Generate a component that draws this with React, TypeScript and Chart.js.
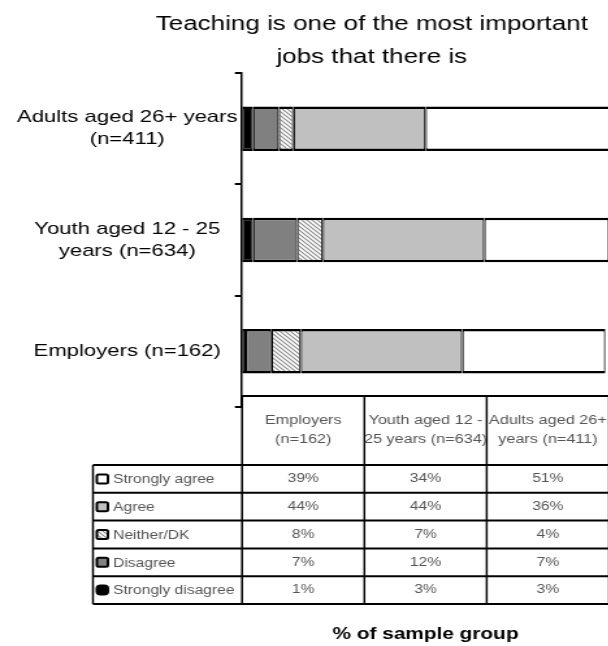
import React, { useEffect, useRef } from 'react';
import { Chart, registerables } from 'chart.js';

Chart.register(...registerables);

// ---- data ----
const TITLE_LINES = ['Teaching is one of the most important', 'jobs that there is'];
const X_TITLE = '% of sample group';
const GROUPS = ['Employers (n=162)', 'Youth aged 12 - 25 years (n=634)', 'Adults aged 26+ years (n=411)'];
const AXIS_LABELS = [['Employers (n=162)'], ['Youth aged 12 - 25', 'years (n=634)'], ['Adults aged 26+ years', '(n=411)']];
const TABLE_HEADERS = [['Employers', '(n=162)'], ['Youth aged 12 -', '25 years (n=634)'], ['Adults aged 26+', 'years (n=411)']];
const SERIES_NAMES = ['Strongly disagree', 'Disagree', 'Neither/DK', 'Agree', 'Strongly agree'];
const STRONGLY_DISAGREE = [1, 3, 3];
const DISAGREE = [7, 12, 7];
const NEITHER = [8, 7, 4];
const AGREE = [44, 44, 36];
const STRONGLY_AGREE = [39, 34, 51];
const TABLE_ROW_ORDER = [4, 3, 2, 1, 0];
const X_MIN = 0;
const X_MAX = 100;

const FAMILY = '"Liberation Sans", Arial, Helvetica, sans-serif';
const STRETCH = 1.3;

function makeHatch(): CanvasPattern | string {
  const c = document.createElement('canvas');
  const s = 4;
  c.width = s;
  c.height = s;
  const g = c.getContext('2d');
  if (!g) return '#ddd';
  g.fillStyle = '#ffffff';
  g.fillRect(0, 0, s, s);
  g.strokeStyle = '#8a8a8a';
  g.lineWidth = 1.1;
  g.beginPath();
  g.moveTo(-1, -1);
  g.lineTo(s + 1, s + 1);
  g.moveTo(-1, s - 1);
  g.lineTo(1, s + 1);
  g.moveTo(s - 1, -1);
  g.lineTo(s + 1, 1);
  g.stroke();
  const p = g.createPattern(c, 'repeat');
  return p || '#ddd';
}

const titlePlugin = {
  id: 'topTitle',
  afterDraw(chart: any) {
    const ctx = chart.ctx;
    ctx.save();
    ctx.font = `20px ${FAMILY}`;
    ctx.fillStyle = '#000';
    ctx.textAlign = 'center';
    ctx.textBaseline = 'alphabetic';
    const cx = chart.width / 2;
    ctx.fillText(TITLE_LINES[0], cx, 30);
    ctx.fillText(TITLE_LINES[1], cx, 63);
    ctx.restore();
  },
};

const tablePlugin = {
  id: 'dataTable',
  afterDraw(chart: any) {
    const ctx = chart.ctx;
    const xs = chart.scales.x;
    const left = xs.getPixelForValue(X_MIN);
    const right = xs.getPixelForValue(X_MAX);
    const colW = (right - left) / GROUPS.length;
    const top = 396;
    const headBottom = 465;
    const bottom = 604;
    const rows = TABLE_ROW_ORDER.length;
    const rowH = (bottom - headBottom) / rows;
    const legendLeft = 71.5;
    const line = (x1: number, y1: number, x2: number, y2: number) => {
      ctx.beginPath();
      ctx.moveTo(x1, y1);
      ctx.lineTo(x2, y2);
      ctx.stroke();
    };
    ctx.save();
    ctx.strokeStyle = '#000';
    ctx.lineWidth = 2;
    line(left, top, right, top);
    for (let r = 0; r <= rows; r++) {
      const y = headBottom + r * rowH;
      line(legendLeft, y, right, y);
    }
    ctx.lineWidth = 1.5;
    for (let c = 0; c <= GROUPS.length; c++) {
      const x = left + c * colW;
      line(x, top, x, bottom);
    }
    line(legendLeft, headBottom, legendLeft, bottom);

    // header
    ctx.fillStyle = '#555';
    ctx.font = `12.5px ${FAMILY}`;
    ctx.textAlign = 'center';
    ctx.textBaseline = 'middle';
    const hc = (top + headBottom) / 2;
    TABLE_HEADERS.forEach((lines, c) => {
      const cx = left + (c + 0.5) * colW;
      const lh = 19;
      const y0 = hc - ((lines.length - 1) * lh) / 2;
      lines.forEach((t, i) => ctx.fillText(t, cx, y0 + i * lh));
    });

    // rows
    TABLE_ROW_ORDER.forEach((di, r) => {
      const ds = chart.data.datasets[di];
      const cy = headBottom + (r + 0.5) * rowH;
      // marker
      ctx.save();
      ctx.fillStyle = ds.backgroundColor;
      ctx.strokeStyle = '#000';
      ctx.lineWidth = 2;
      ctx.beginPath();
      const mx = 74.5;
      const my = cy - 4.5;
      if ((ctx as any).roundRect) (ctx as any).roundRect(mx, my, 8.5, 9, di === 0 ? 3 : 1.5);
      else ctx.rect(mx, my, 8.5, 9);
      ctx.fill();
      ctx.stroke();
      ctx.restore();
      // label
      ctx.fillStyle = '#555';
      ctx.font = `12px ${FAMILY}`;
      ctx.textAlign = 'left';
      ctx.textBaseline = 'middle';
      ctx.fillText(ds.label, 87, cy + 1);
      // values
      ctx.textAlign = 'center';
      ds.data.forEach((v: number, c: number) => {
        ctx.fillText(`${v}%`, left + (c + 0.5) * colW, cy);
      });
    });
    ctx.restore();
  },
};

export default function App() {
  const ref = useRef<HTMLCanvasElement>(null);
  useEffect(() => {
    const canvas = ref.current;
    if (!canvas) return;
    const hatch = makeHatch();
    const colors: any[] = ['#000000', '#808080', hatch, '#c0c0c0', '#ffffff'];
    const values = [STRONGLY_DISAGREE, DISAGREE, NEITHER, AGREE, STRONGLY_AGREE];
    const datasets = SERIES_NAMES.map((name, i) => ({
      label: name,
      data: values[i],
      backgroundColor: colors[i],
      borderColor: '#000',
      borderWidth: { top: 2.5, bottom: 2.5, left: 1.2, right: 1.2 },
      borderSkipped: false,
      barPercentage: 0.4,
      categoryPercentage: 1,
    }));
    const chart = new Chart(canvas, {
      type: 'bar',
      data: { labels: GROUPS, datasets: datasets as any },
      options: {
        indexAxis: 'y',
        responsive: false,
        animation: false,
        devicePixelRatio: 1,
        font: { family: FAMILY },
        layout: { padding: { top: 73, right: 103.5, left: 0, bottom: 0 } },
        plugins: {
          legend: { display: false },
          tooltip: { enabled: false },
          title: { display: false },
        },
        scales: {
          x: {
            stacked: true,
            min: X_MIN,
            max: X_MAX,
            grid: { display: false },
            border: { display: false },
            ticks: { display: false },
            title: {
              display: true,
              text: X_TITLE,
              color: '#000',
              font: { size: 16, weight: 'bold', family: FAMILY },
              padding: { top: 0, bottom: 2 },
            },
            afterFit: (s: any) => {
              s.height = 239;
            },
          },
          y: {
            type: 'category',
            stacked: true,
            reverse: true,
            grid: {
              display: true,
              drawOnChartArea: false,
              drawTicks: true,
              tickLength: 5.5,
              color: '#000',
              lineWidth: 2,
              offset: true,
            },
            border: { display: true, color: '#000', width: 1.5 },
            ticks: {
              color: '#000',
              autoSkip: false,
              crossAlign: 'center',
              padding: -2,
              font: { size: 17, family: FAMILY, lineHeight: 1.3 },
              callback: (v: any) => AXIS_LABELS[v as number],
            },
            afterFit: (s: any) => {
              s.width = 186.2;
            },
          },
        },
      } as any,
      plugins: [titlePlugin, tablePlugin],
    });
    return () => chart.destroy();
  }, []);

  return (
    <div
      style={{
        position: 'fixed',
        left: 0,
        top: 0,
        width: 608,
        height: 646,
        overflow: 'hidden',
        background: '#fff',
      }}
    >
      <canvas
        ref={ref}
        width={572}
        height={646}
        style={{
          width: '572px',
          height: '646px',
          display: 'block',
          transform: `scaleX(${STRETCH})`,
          transformOrigin: '0 0',
        }}
      />
    </div>
  );
}
